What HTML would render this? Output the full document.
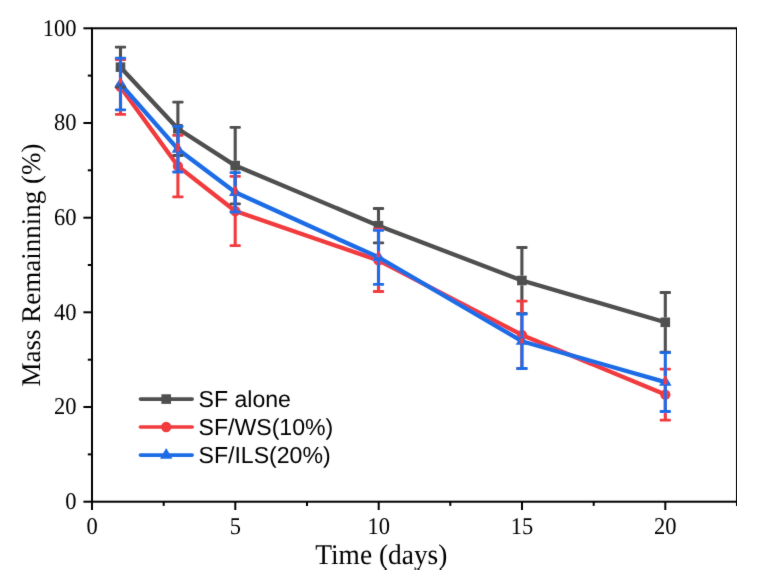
<!DOCTYPE html>
<html><head><meta charset="utf-8"><style>
html,body{margin:0;padding:0;background:#fff;}
body{width:769px;height:585px;overflow:hidden;}
svg{display:block;}
text{text-rendering:geometricPrecision;}
.wrap{will-change:transform;}
</style></head><body>
<div class="wrap"><svg width="769" height="585" viewBox="0 0 769 585">
<defs><filter id="bl" x="0" y="0" width="100%" height="100%"><feConvolveMatrix order="3" kernelMatrix="0.015 0.06 0.015 0.06 0.7 0.06 0.015 0.06 0.015" edgeMode="duplicate" preserveAlpha="false"/></filter></defs>
<rect width="769" height="585" fill="#fff"/>
<g filter="url(#bl)">
<rect x="92.0" y="28.3" width="645.0" height="473.4" fill="none" stroke="#000" stroke-width="2"/>
<line x1="83.4" y1="501.7" x2="92.0" y2="501.7" stroke="#000" stroke-width="2"/>
<line x1="87.8" y1="454.4" x2="92.0" y2="454.4" stroke="#000" stroke-width="2"/>
<line x1="83.4" y1="407.0" x2="92.0" y2="407.0" stroke="#000" stroke-width="2"/>
<line x1="87.8" y1="359.7" x2="92.0" y2="359.7" stroke="#000" stroke-width="2"/>
<line x1="83.4" y1="312.3" x2="92.0" y2="312.3" stroke="#000" stroke-width="2"/>
<line x1="87.8" y1="265.0" x2="92.0" y2="265.0" stroke="#000" stroke-width="2"/>
<line x1="83.4" y1="217.7" x2="92.0" y2="217.7" stroke="#000" stroke-width="2"/>
<line x1="87.8" y1="170.3" x2="92.0" y2="170.3" stroke="#000" stroke-width="2"/>
<line x1="83.4" y1="123.0" x2="92.0" y2="123.0" stroke="#000" stroke-width="2"/>
<line x1="87.8" y1="75.6" x2="92.0" y2="75.6" stroke="#000" stroke-width="2"/>
<line x1="83.4" y1="28.3" x2="92.0" y2="28.3" stroke="#000" stroke-width="2"/>
<line x1="92.0" y1="501.7" x2="92.0" y2="510.0" stroke="#000" stroke-width="2"/>
<line x1="163.7" y1="501.7" x2="163.7" y2="505.9" stroke="#000" stroke-width="2"/>
<line x1="235.3" y1="501.7" x2="235.3" y2="510.0" stroke="#000" stroke-width="2"/>
<line x1="307.0" y1="501.7" x2="307.0" y2="505.9" stroke="#000" stroke-width="2"/>
<line x1="378.7" y1="501.7" x2="378.7" y2="510.0" stroke="#000" stroke-width="2"/>
<line x1="450.3" y1="501.7" x2="450.3" y2="505.9" stroke="#000" stroke-width="2"/>
<line x1="522.0" y1="501.7" x2="522.0" y2="510.0" stroke="#000" stroke-width="2"/>
<line x1="593.7" y1="501.7" x2="593.7" y2="505.9" stroke="#000" stroke-width="2"/>
<line x1="665.3" y1="501.7" x2="665.3" y2="510.0" stroke="#000" stroke-width="2"/>
<line x1="737.0" y1="501.7" x2="737.0" y2="505.9" stroke="#000" stroke-width="2"/>
<polyline points="120.5,67.2 177.9,128.8 235.2,165.6 378.5,225.7 521.9,280.5 665.3,322.3" fill="none" stroke="#4f4f4f" stroke-width="4.3" stroke-linejoin="round" stroke-linecap="round"/>
<rect x="115.70" y="62.35" width="9.60" height="9.60" fill="#4f4f4f"/>
<rect x="173.10" y="124.00" width="9.60" height="9.60" fill="#4f4f4f"/>
<rect x="230.40" y="160.80" width="9.60" height="9.60" fill="#4f4f4f"/>
<rect x="373.70" y="220.90" width="9.60" height="9.60" fill="#4f4f4f"/>
<rect x="517.10" y="275.70" width="9.60" height="9.60" fill="#4f4f4f"/>
<rect x="660.50" y="317.50" width="9.60" height="9.60" fill="#4f4f4f"/>
<polyline points="120.5,87.0 177.9,166.1 235.2,211.0 378.5,260.4 521.9,334.9 665.3,394.6" fill="none" stroke="#f13a3c" stroke-width="4.3" stroke-linejoin="round" stroke-linecap="round"/>
<circle cx="120.50" cy="86.95" r="5.15" fill="#f13a3c"/>
<circle cx="177.90" cy="166.10" r="5.15" fill="#f13a3c"/>
<circle cx="235.20" cy="211.00" r="5.15" fill="#f13a3c"/>
<circle cx="378.50" cy="260.40" r="5.15" fill="#f13a3c"/>
<circle cx="521.90" cy="334.85" r="5.15" fill="#f13a3c"/>
<circle cx="665.30" cy="394.60" r="5.15" fill="#f13a3c"/>
<polyline points="120.5,84.0 177.9,149.2 235.2,192.3 378.5,257.3 521.9,341.2 665.3,382.1" fill="none" stroke="#1b6ce6" stroke-width="4.3" stroke-linejoin="round" stroke-linecap="round"/>
<polygon points="120.50,76.80 114.30,87.60 126.70,87.60" fill="#1b6ce6"/>
<polygon points="177.90,142.00 171.70,152.80 184.10,152.80" fill="#1b6ce6"/>
<polygon points="235.20,185.10 229.00,195.90 241.40,195.90" fill="#1b6ce6"/>
<polygon points="378.50,250.10 372.30,260.90 384.70,260.90" fill="#1b6ce6"/>
<polygon points="521.90,334.05 515.70,344.85 528.10,344.85" fill="#1b6ce6"/>
<polygon points="665.30,374.90 659.10,385.70 671.50,385.70" fill="#1b6ce6"/>
<line x1="120.5" y1="47.2" x2="120.5" y2="62.4" stroke="#4f4f4f" stroke-width="3.1"/><line x1="120.5" y1="72.0" x2="120.5" y2="87.1" stroke="#4f4f4f" stroke-width="3.1"/><rect x="114.85" y="45.80" width="11.30" height="2.80" rx="1" fill="#4f4f4f"/><rect x="114.85" y="85.70" width="11.30" height="2.80" rx="1" fill="#4f4f4f"/>
<line x1="177.9" y1="102.1" x2="177.9" y2="124.0" stroke="#4f4f4f" stroke-width="3.1"/><line x1="177.9" y1="133.6" x2="177.9" y2="155.5" stroke="#4f4f4f" stroke-width="3.1"/><rect x="172.25" y="100.70" width="11.30" height="2.80" rx="1" fill="#4f4f4f"/><rect x="172.25" y="154.10" width="11.30" height="2.80" rx="1" fill="#4f4f4f"/>
<line x1="235.2" y1="127.4" x2="235.2" y2="160.8" stroke="#4f4f4f" stroke-width="3.1"/><line x1="235.2" y1="170.4" x2="235.2" y2="203.8" stroke="#4f4f4f" stroke-width="3.1"/><rect x="229.55" y="126.00" width="11.30" height="2.80" rx="1" fill="#4f4f4f"/><rect x="229.55" y="202.40" width="11.30" height="2.80" rx="1" fill="#4f4f4f"/>
<line x1="378.5" y1="208.5" x2="378.5" y2="220.9" stroke="#4f4f4f" stroke-width="3.1"/><line x1="378.5" y1="230.5" x2="378.5" y2="242.9" stroke="#4f4f4f" stroke-width="3.1"/><rect x="372.85" y="207.10" width="11.30" height="2.80" rx="1" fill="#4f4f4f"/><rect x="372.85" y="241.50" width="11.30" height="2.80" rx="1" fill="#4f4f4f"/>
<line x1="521.9" y1="247.5" x2="521.9" y2="275.7" stroke="#4f4f4f" stroke-width="3.1"/><line x1="521.9" y1="285.3" x2="521.9" y2="313.5" stroke="#4f4f4f" stroke-width="3.1"/><rect x="516.25" y="246.10" width="11.30" height="2.80" rx="1" fill="#4f4f4f"/><rect x="516.25" y="312.10" width="11.30" height="2.80" rx="1" fill="#4f4f4f"/>
<line x1="665.3" y1="292.5" x2="665.3" y2="317.5" stroke="#4f4f4f" stroke-width="3.1"/><line x1="665.3" y1="327.1" x2="665.3" y2="352.1" stroke="#4f4f4f" stroke-width="3.1"/><rect x="659.65" y="291.10" width="11.30" height="2.80" rx="1" fill="#4f4f4f"/><rect x="659.65" y="350.70" width="11.30" height="2.80" rx="1" fill="#4f4f4f"/>
<line x1="120.5" y1="59.5" x2="120.5" y2="83.5" stroke="#f13a3c" stroke-width="3.1"/><line x1="120.5" y1="90.5" x2="120.5" y2="114.4" stroke="#f13a3c" stroke-width="3.1"/><rect x="114.85" y="58.10" width="11.30" height="2.80" rx="1" fill="#f13a3c"/><rect x="114.85" y="113.00" width="11.30" height="2.80" rx="1" fill="#f13a3c"/>
<line x1="177.9" y1="135.4" x2="177.9" y2="162.6" stroke="#f13a3c" stroke-width="3.1"/><line x1="177.9" y1="169.6" x2="177.9" y2="196.8" stroke="#f13a3c" stroke-width="3.1"/><rect x="172.25" y="134.00" width="11.30" height="2.80" rx="1" fill="#f13a3c"/><rect x="172.25" y="195.40" width="11.30" height="2.80" rx="1" fill="#f13a3c"/>
<line x1="235.2" y1="176.3" x2="235.2" y2="207.5" stroke="#f13a3c" stroke-width="3.1"/><line x1="235.2" y1="214.5" x2="235.2" y2="245.7" stroke="#f13a3c" stroke-width="3.1"/><rect x="229.55" y="174.90" width="11.30" height="2.80" rx="1" fill="#f13a3c"/><rect x="229.55" y="244.30" width="11.30" height="2.80" rx="1" fill="#f13a3c"/>
<line x1="378.5" y1="229.2" x2="378.5" y2="256.9" stroke="#f13a3c" stroke-width="3.1"/><line x1="378.5" y1="263.9" x2="378.5" y2="291.5" stroke="#f13a3c" stroke-width="3.1"/><rect x="372.85" y="227.80" width="11.30" height="2.80" rx="1" fill="#f13a3c"/><rect x="372.85" y="290.10" width="11.30" height="2.80" rx="1" fill="#f13a3c"/>
<line x1="521.9" y1="301.2" x2="521.9" y2="331.4" stroke="#f13a3c" stroke-width="3.1"/><line x1="521.9" y1="338.4" x2="521.9" y2="368.5" stroke="#f13a3c" stroke-width="3.1"/><rect x="516.25" y="299.80" width="11.30" height="2.80" rx="1" fill="#f13a3c"/><rect x="516.25" y="367.10" width="11.30" height="2.80" rx="1" fill="#f13a3c"/>
<line x1="665.3" y1="369.1" x2="665.3" y2="391.1" stroke="#f13a3c" stroke-width="3.1"/><line x1="665.3" y1="398.1" x2="665.3" y2="420.1" stroke="#f13a3c" stroke-width="3.1"/><rect x="659.65" y="367.70" width="11.30" height="2.80" rx="1" fill="#f13a3c"/><rect x="659.65" y="418.70" width="11.30" height="2.80" rx="1" fill="#f13a3c"/>
<line x1="120.5" y1="58.2" x2="120.5" y2="78.2" stroke="#1b6ce6" stroke-width="3.1"/><line x1="120.5" y1="86.1" x2="120.5" y2="109.8" stroke="#1b6ce6" stroke-width="3.1"/><rect x="114.85" y="56.80" width="11.30" height="2.80" rx="1" fill="#1b6ce6"/><rect x="114.85" y="108.40" width="11.30" height="2.80" rx="1" fill="#1b6ce6"/>
<line x1="177.9" y1="126.4" x2="177.9" y2="143.4" stroke="#1b6ce6" stroke-width="3.1"/><line x1="177.9" y1="151.3" x2="177.9" y2="172.0" stroke="#1b6ce6" stroke-width="3.1"/><rect x="172.25" y="125.00" width="11.30" height="2.80" rx="1" fill="#1b6ce6"/><rect x="172.25" y="170.60" width="11.30" height="2.80" rx="1" fill="#1b6ce6"/>
<line x1="235.2" y1="172.6" x2="235.2" y2="186.5" stroke="#1b6ce6" stroke-width="3.1"/><line x1="235.2" y1="194.4" x2="235.2" y2="212.0" stroke="#1b6ce6" stroke-width="3.1"/><rect x="229.55" y="171.20" width="11.30" height="2.80" rx="1" fill="#1b6ce6"/><rect x="229.55" y="210.60" width="11.30" height="2.80" rx="1" fill="#1b6ce6"/>
<line x1="378.5" y1="230.3" x2="378.5" y2="251.5" stroke="#1b6ce6" stroke-width="3.1"/><line x1="378.5" y1="259.4" x2="378.5" y2="284.3" stroke="#1b6ce6" stroke-width="3.1"/><rect x="372.85" y="228.95" width="11.30" height="2.80" rx="1" fill="#1b6ce6"/><rect x="372.85" y="282.90" width="11.30" height="2.80" rx="1" fill="#1b6ce6"/>
<line x1="521.9" y1="314.0" x2="521.9" y2="335.4" stroke="#1b6ce6" stroke-width="3.1"/><line x1="521.9" y1="343.3" x2="521.9" y2="368.5" stroke="#1b6ce6" stroke-width="3.1"/><rect x="516.25" y="312.60" width="11.30" height="2.80" rx="1" fill="#1b6ce6"/><rect x="516.25" y="367.10" width="11.30" height="2.80" rx="1" fill="#1b6ce6"/>
<line x1="665.3" y1="352.7" x2="665.3" y2="376.3" stroke="#1b6ce6" stroke-width="3.1"/><line x1="665.3" y1="384.2" x2="665.3" y2="411.5" stroke="#1b6ce6" stroke-width="3.1"/><rect x="659.65" y="351.30" width="11.30" height="2.80" rx="1" fill="#1b6ce6"/><rect x="659.65" y="410.10" width="11.30" height="2.80" rx="1" fill="#1b6ce6"/>
<text transform="translate(76.6,508.90) scale(0.965,1.03)" text-anchor="end" style="font-family:'Liberation Serif',serif;font-size:23.3px">0</text>
<text transform="translate(76.6,414.22) scale(0.965,1.03)" text-anchor="end" style="font-family:'Liberation Serif',serif;font-size:23.3px">20</text>
<text transform="translate(76.6,319.54) scale(0.965,1.03)" text-anchor="end" style="font-family:'Liberation Serif',serif;font-size:23.3px">40</text>
<text transform="translate(76.6,224.86) scale(0.965,1.03)" text-anchor="end" style="font-family:'Liberation Serif',serif;font-size:23.3px">60</text>
<text transform="translate(76.6,130.18) scale(0.965,1.03)" text-anchor="end" style="font-family:'Liberation Serif',serif;font-size:23.3px">80</text>
<text transform="translate(76.6,35.50) scale(0.965,1.03)" text-anchor="end" style="font-family:'Liberation Serif',serif;font-size:23.3px">100</text>
<text transform="translate(92.00,534) scale(0.965,1.03)" text-anchor="middle" style="font-family:'Liberation Serif',serif;font-size:23.3px">0</text>
<text transform="translate(235.33,534) scale(0.965,1.03)" text-anchor="middle" style="font-family:'Liberation Serif',serif;font-size:23.3px">5</text>
<text transform="translate(378.67,534) scale(0.965,1.03)" text-anchor="middle" style="font-family:'Liberation Serif',serif;font-size:23.3px">10</text>
<text transform="translate(522.00,534) scale(0.965,1.03)" text-anchor="middle" style="font-family:'Liberation Serif',serif;font-size:23.3px">15</text>
<text transform="translate(665.33,534) scale(0.965,1.03)" text-anchor="middle" style="font-family:'Liberation Serif',serif;font-size:23.3px">20</text>
<text transform="translate(381.3,563.6) scale(1,1.04)" text-anchor="middle" style="font-family:'Liberation Serif',serif;font-size:27.4px">Time (days)</text>
<text transform="translate(39.5,265.1) rotate(-90)" x="0" y="0" text-anchor="middle" style="font-family:'Liberation Serif',serif;font-size:27px">Mass Remainning (%)</text>
<line x1="140.4" y1="399.1" x2="192.2" y2="399.1" stroke="#4f4f4f" stroke-width="3.6" stroke-linecap="round"/>
<rect x="161.40" y="394.30" width="9.60" height="9.60" fill="#4f4f4f"/>
<text x="198.5" y="406.70" style="font-family:'Liberation Sans',sans-serif;font-size:23.1px">SF alone</text>
<line x1="140.4" y1="427.0" x2="192.2" y2="427.0" stroke="#f13a3c" stroke-width="3.6" stroke-linecap="round"/>
<circle cx="166.20" cy="427.00" r="5.15" fill="#f13a3c"/>
<text x="198.5" y="434.60" style="font-family:'Liberation Sans',sans-serif;font-size:23.1px">SF/WS(10%)</text>
<line x1="140.4" y1="455.1" x2="192.2" y2="455.1" stroke="#1b6ce6" stroke-width="3.6" stroke-linecap="round"/>
<polygon points="166.20,447.90 160.00,458.70 172.40,458.70" fill="#1b6ce6"/>
<text x="198.5" y="462.70" style="font-family:'Liberation Sans',sans-serif;font-size:23.1px">SF/ILS(20%)</text>
</g>
</svg></div>
</body></html>
